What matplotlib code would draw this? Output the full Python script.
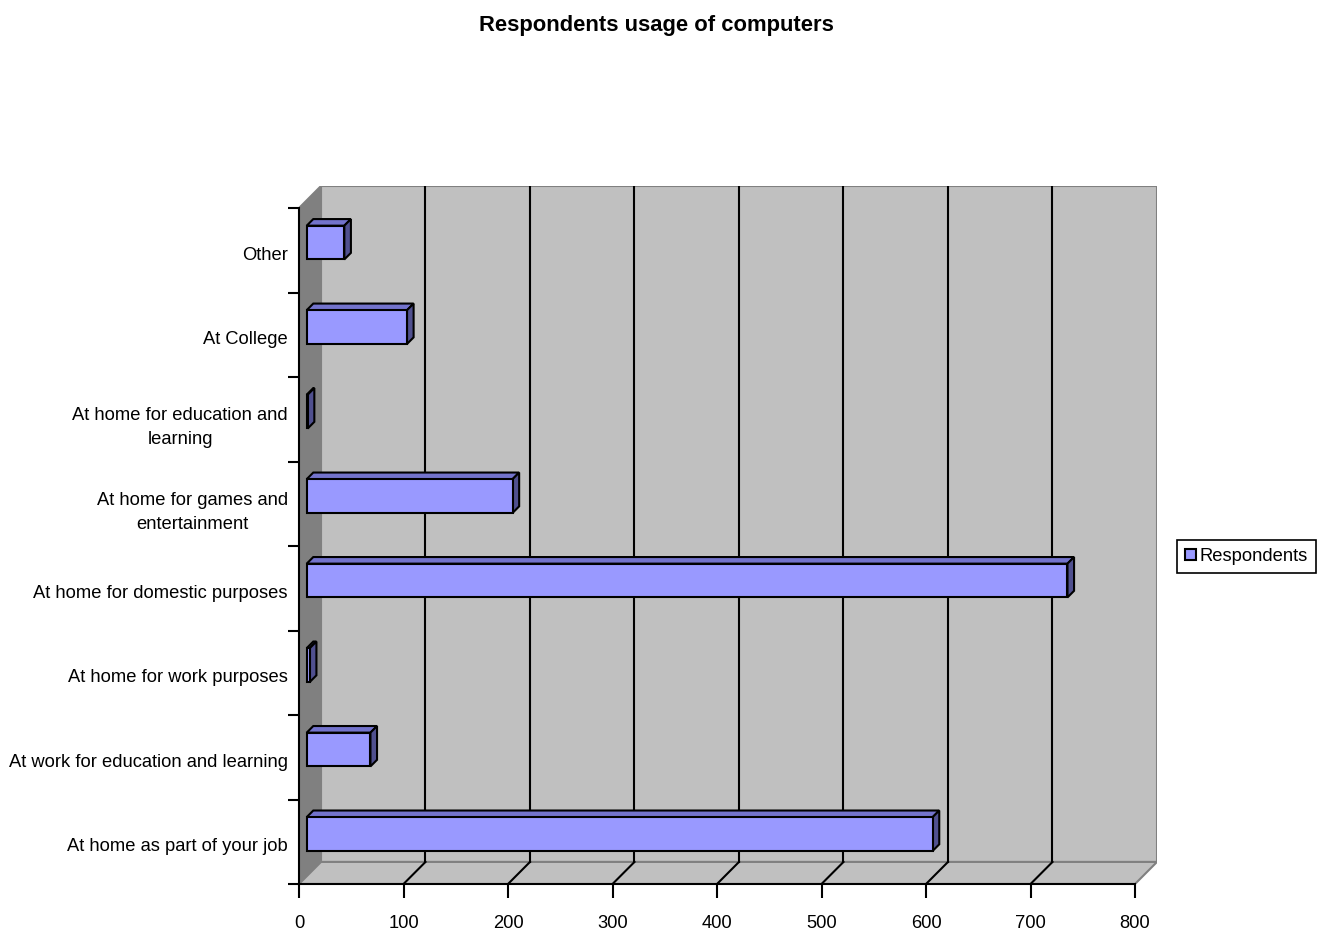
import matplotlib
matplotlib.use("Agg")
import matplotlib.pyplot as plt
import matplotlib.transforms as mtransforms
from matplotlib.patches import Polygon, Patch

plt.rcParams['font.family'] = ['Liberation Sans Narrow', 'Liberation Sans', 'DejaVu Sans']

# survey data, bottom category first
categories = [
    "At home as part of your job",
    "At work for education and learning",
    "At home for work purposes",
    "At home for domestic purposes",
    "At home for games and\nentertainment",
    "At home for education and\nlearning",
    "At College",
    "Other",
]
respondents = [599, 61, 3, 728, 197, 1, 96, 36]
xticks = [0, 100, 200, 300, 400, 500, 600, 700, 800]

xmax = 800
n = len(categories)
# depth of the 3D box in data units (22 px at this scale)
dx = 22 / 1.046
dy = 22 / 84.25

wall = "#C0C0C0"
side_wall = "#808080"
bar_front = "#9999FF"
bar_top = "#7373CC"
bar_side = "#50508F"

fig = plt.figure(figsize=(13.25, 9.32), dpi=100)
ax = fig.add_axes([299 / 1325, 1 - 884 / 932, (1157 - 299) / 1325, (884 - 186) / 932])
ax.set_xlim(0, xmax + dx)
ax.set_ylim(0, n + dy)
for s in ax.spines.values():
    s.set_visible(False)

# walls and floor
ax.add_patch(Polygon([(dx, dy), (xmax + dx, dy), (xmax + dx, n + dy), (dx, n + dy)],
                     facecolor=wall, edgecolor=side_wall, lw=1.5, zorder=1))
ax.add_patch(Polygon([(0, 0), (dx, dy), (dx, n + dy), (0, n)],
                     facecolor=side_wall, edgecolor=side_wall, lw=1.5, zorder=1))
ax.add_patch(Polygon([(0, 0), (xmax, 0), (xmax + dx, dy), (dx, dy)],
                     facecolor=wall, edgecolor=side_wall, lw=1.5, zorder=1))

# gridlines on the back wall and floor
for t in xticks[1:-1]:
    ax.plot([t + dx, t + dx], [dy, n + dy], color="black", lw=1.5, zorder=2)
    ax.plot([t, t + dx], [0, dy], color="black", lw=1.5, zorder=2)

# front axis lines
ax.plot([0, xmax], [0, 0], color="black", lw=1.5, zorder=3, clip_on=False)
ax.plot([0, 0], [0, n], color="black", lw=1.5, zorder=3, clip_on=False)

# 3D bars
z0, z1 = 0.35, 0.65
h = 0.2
for i, v in enumerate(respondents):
    c = i + 0.5
    x0, y0 = z0 * dx, c - h + z0 * dy
    x1, y1 = z1 * dx, c - h + z1 * dy
    front = [(x0, y0), (x0 + v, y0), (x0 + v, y0 + 2 * h), (x0, y0 + 2 * h)]
    top = [(x0, y0 + 2 * h), (x0 + v, y0 + 2 * h), (x1 + v, y1 + 2 * h), (x1, y1 + 2 * h)]
    side = [(x0 + v, y0), (x1 + v, y1), (x1 + v, y1 + 2 * h), (x0 + v, y0 + 2 * h)]
    for pts, col in ((top, bar_top), (side, bar_side), (front, bar_front)):
        ax.add_patch(Polygon(pts, facecolor=col, edgecolor="black", lw=1.5,
                             joinstyle="miter", zorder=4))

# ticks and labels
ax.set_xticks(xticks)
ax.set_xticklabels([str(t) for t in xticks], fontsize=13.2)
ax.tick_params(axis="x", length=10, width=1.5, pad=12)
ax.set_yticks(range(n + 1))
ax.set_yticklabels([])
ax.tick_params(axis="y", which="major", length=8, width=1.5)
ax.set_yticks([i + 0.5 for i in range(n)], minor=True)
ax.set_yticklabels(categories, minor=True, fontsize=13.2, multialignment="center",
                   linespacing=1.55)
ax.tick_params(axis="y", which="minor", length=0, pad=8)
shift = mtransforms.ScaledTranslation(0, -3 / 100, fig.dpi_scale_trans)
for lbl in ax.get_yticklabels(minor=True):
    lbl.set_transform(lbl.get_transform() + shift)

fig.text(656 / 1325, 1 - 26 / 932, "Respondents usage of computers",
         ha="center", va="center", fontsize=15.8, fontweight="bold")

leg = fig.legend(handles=[Patch(facecolor=bar_front, edgecolor="black", lw=1.5, label="Respondents")],
                 loc="center", bbox_to_anchor=(1246.5 / 1325, 1 - 556.5 / 932),
                 fontsize=13.2, fancybox=False, framealpha=1, edgecolor="black",
                 handlelength=0.6, handleheight=0.6, handletextpad=0.2,
                 borderpad=0.42, borderaxespad=0)
leg.get_frame().set_linewidth(1.2)

fig.savefig("out.png", dpi=100)
